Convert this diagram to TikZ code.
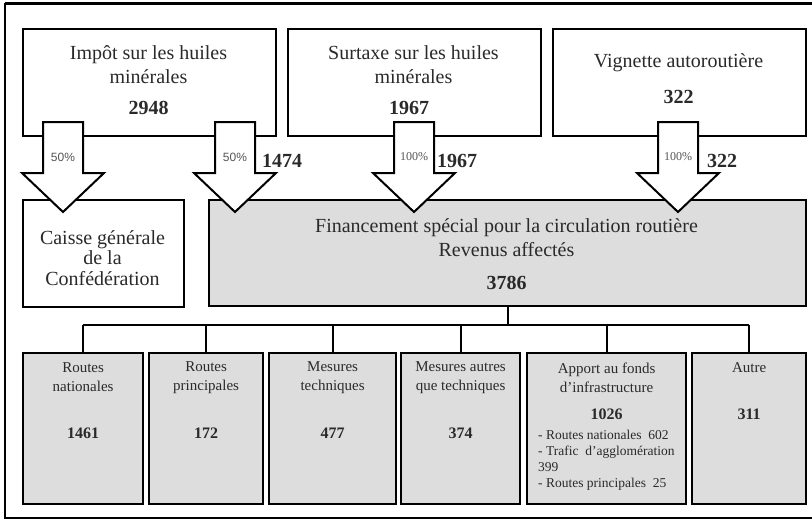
\documentclass[tikz,border=0pt]{standalone}
\usepackage{fontspec}
\setmainfont{Liberation Serif}
\newfontfamily\arialfam{Liberation Sans}
\definecolor{boxgray}{HTML}{DDDDDD}
\definecolor{textc}{HTML}{2A2A2A}
\definecolor{pctc}{HTML}{555555}
\newcommand\downarrowshape[2]{%
  \filldraw[arrowst] (#1-20,122) -- (#1+20,122) -- (#1+20,173) -- (#1+41,173)
    -- (#1,212) -- (#1-41,173) -- (#1-20,173) -- cycle;
  \node[pct] (#2) at (#1,157) {};}
\begin{document}
\begin{tikzpicture}[x=1pt,y=-1pt,
  box/.style={draw=black, line width=2.2pt, fill=white, inner sep=0pt, anchor=north west},
  gbox/.style={box, fill=boxgray},
  big/.style={font=\fontsize{20}{24}\selectfont, text=textc, align=center, inner sep=0pt},
  bignum/.style={font=\fontsize{20}{24}\selectfont\bfseries, text=textc, inner sep=0pt},
  small/.style={font=\fontsize{15}{19}\selectfont, text=textc, align=center, inner sep=0pt},
  smallnum/.style={font=\fontsize{16}{19}\selectfont\bfseries, text=textc, inner sep=0pt},
  list/.style={font=\fontsize{13.5}{16}\selectfont, text=textc, align=left, inner sep=0pt, anchor=west},
  pct/.style={font=\fontsize{12}{14}\selectfont, text=pctc, inner sep=0pt},
  arrowst/.style={draw=black, line width=2pt, fill=white, line join=miter},
  link/.style={draw=black, line width=2.2pt}]
\useasboundingbox (0,0) rectangle (812,520);
% frame
\draw[line width=3pt] (812,3) -- (5,3);
\draw[line width=2pt] (5,3) -- (5,518) -- (812,518);
% top boxes
\node[box, minimum width=253, minimum height=107] (imp) at (22,28) {};
\node[box, minimum width=253, minimum height=107] (sur) at (287,28) {};
\node[box, minimum width=253, minimum height=107] (vig) at (552,28) {};
\node[big] (impt) at (148.5,65) {Impôt sur les huiles\\minérales};
\node[bignum] (impn) at (148.5,108) {2948};
\node[big] (surt) at (413.5,65) {Surtaxe sur les huiles\\minérales};
\node[bignum] (surn) at (409,108) {1967};
\node[big] (vigt) at (678.5,63) {Vignette autoroutière};
\node[bignum] (vign) at (678.5,97) {322};
% middle boxes
\node[box, minimum width=161, minimum height=107] (cai) at (22,199) {};
\node[gbox, minimum width=597, minimum height=106] (fin) at (208,199) {};
\node[font=\fontsize{20}{20.5}\selectfont, text=textc, align=center, inner sep=0pt] (cait) at (102.5,258) {Caisse générale\\de la\\Confédération};
\node[big] (fint) at (506.5,237.5) {Financement spécial pour la circulation routière\\Revenus affectés};
\node[bignum] (finn) at (506.5,283) {3786};
% arrows
\downarrowshape{63}{p1}
\downarrowshape{235}{p2}
\downarrowshape{414}{p3}
\downarrowshape{678}{p4}
\node[pct, font=\arialfam\fontsize{12}{14}\selectfont] at (p1) {50\%};
\node[pct, font=\arialfam\fontsize{12}{14}\selectfont] at (p2) {50\%};
\node[pct] at (p3) {100\%};
\node[pct] at (p4) {100\%};
\node[bignum, anchor=west] (v1) at (262,161) {1474};
\node[bignum, anchor=west] (v2) at (437,161) {1967};
\node[bignum, anchor=west] (v3) at (707,161) {322};
% bottom boxes
\node[gbox, minimum width=120, minimum height=151] (b1) at (22,352) {};
\node[gbox, minimum width=114, minimum height=151] (b2) at (148,352) {};
\node[gbox, minimum width=127, minimum height=151] (b3) at (268,352) {};
\node[gbox, minimum width=119, minimum height=151] (b4) at (400,352) {};
\node[gbox, minimum width=159, minimum height=151] (b5) at (526,352) {};
\node[gbox, minimum width=114, minimum height=151] (b6) at (691,352) {};
% tree connector
\draw[link] (fin.south) -- ++(0,18) coordinate (j);
\draw[link] (b1.north |- j) -- (b6.north |- j);
\foreach \b in {b1,b2,b3,b4,b5,b6} \draw[link] (\b.north |- j) -- (\b.north);
% bottom texts
\node[small] (t1) at (b1.north |- 0,377.5) {Routes\\nationales};
\node[smallnum] (n1) at (b1.north |- 0,433) {1461};
\node[small] (t2) at (b2.north |- 0,377.5) {Routes\\principales};
\node[smallnum] (n2) at (b2.north |- 0,433) {172};
\node[small] (t3) at (b3.north |- 0,377.5) {Mesures\\techniques};
\node[smallnum] (n3) at (b3.north |- 0,433) {477};
\node[small] (t4) at (b4.north |- 0,377.5) {Mesures autres\\que techniques};
\node[smallnum] (n4) at (b4.north |- 0,433) {374};
\node[small] (t5) at (b5.north |- 0,377.5) {Apport au fonds\\d’infrastructure};
\node[smallnum] (n5) at (b5.north |- 0,414) {1026};
\node[list] (l5) at (538,460.5) {- Routes nationales\ \ 602\\- Trafic\ \ d’agglomération\\399\\- Routes principales\ \ 25};
\node[small] (t6) at (b6.north |- 0,368) {Autre};
\node[smallnum] (n6) at (b6.north |- 0,414) {311};
\end{tikzpicture}
\end{document}
